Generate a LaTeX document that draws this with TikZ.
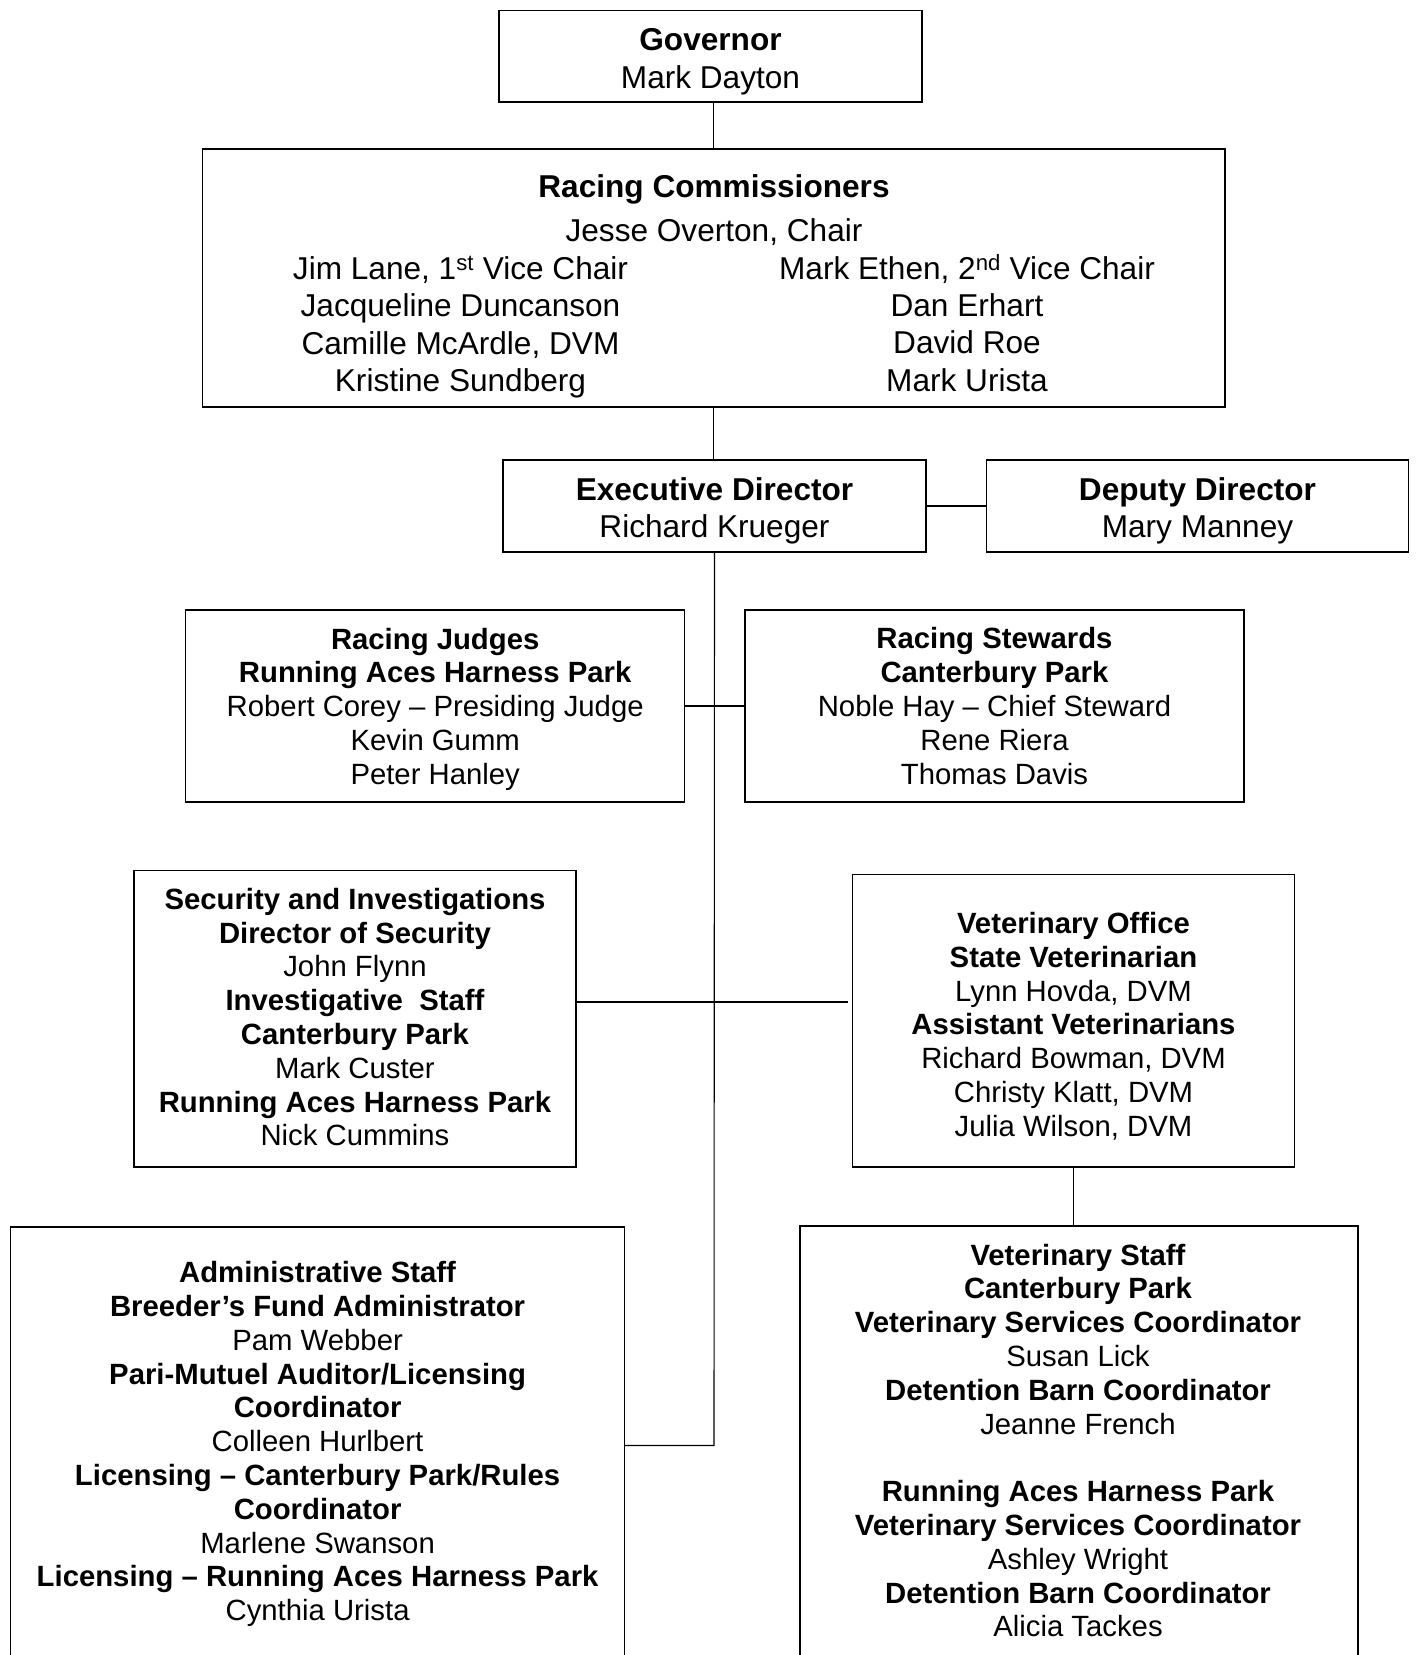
\documentclass[tikz,border=0pt]{standalone}
\usepackage{fontspec}
\setmainfont{Liberation Sans}
\newcommand\bigf{\fontsize{31.6}{37.4}\selectfont}
\newcommand\smallf{\fontsize{29.3}{33.8}\selectfont}
\begin{document}
\begin{tikzpicture}[x=1pt,y=-1pt,
  box/.style={draw,line width=1.4pt,inner sep=0pt},
  btxt/.style={inner sep=0pt,align=center,font=\bigf},
  stxt/.style={inner sep=0pt,align=center,font=\smallf},
  conn/.style={line width=1.1pt}]
\useasboundingbox (0,0) rectangle (1416,1655);
\fill[white] (0,0) rectangle (1416,1655);

% boxes
\node[box,minimum width=423pt,minimum height=91.5pt] (gov) at (710.5,56.3) {};
\node[btxt] (govtxt) at (710.5,61.6) {\textbf{Governor}\\Mark Dayton};

\node[box,minimum width=1022.4pt,minimum height=258pt] (comm) at (713.8,278) {};
\node[btxt] (commtitle) at (714,189.2) {\textbf{Racing Commissioners}};
\node[btxt] (commchair) at (714,232.1) {Jesse Overton, Chair};
\node[btxt] (commleft) at (460.5,327.1) {Jim Lane, 1\textsuperscript{st} Vice Chair\\Jacqueline Duncanson\\Camille McArdle, DVM\\Kristine Sundberg};
\node[btxt] (commright) at (967,322.9) {Mark Ethen, 2\textsuperscript{nd} Vice Chair\\Dan Erhart\\David Roe\\Mark Urista};

\node[box,minimum width=423pt,minimum height=92pt] (exec) at (714.5,506) {};
\node[btxt] (exectxt) at (714.5,510.7) {\textbf{Executive Director}\\Richard Krueger};
\node[box,minimum width=422pt,minimum height=92pt] (dep) at (1197.5,506) {};
\node[btxt] (deptxt) at (1197.5,510.7) {\textbf{Deputy Director}\\Mary Manney};

\node[box,minimum width=499pt,minimum height=192pt] (judges) at (435.2,706) {};
\node[stxt] (judgestxt) at (435.2,709.2)
  {\textbf{Racing Judges}\\\textbf{Running Aces Harness Park}\\Robert Corey – Presiding Judge\\Kevin Gumm\\Peter Hanley};
\node[box,minimum width=499pt,minimum height=192pt] (stew) at (994.5,706) {};
\node[stxt] (stewtxt) at (994.5,706)
  {\textbf{Racing Stewards}\\\textbf{Canterbury Park}\\Noble Hay – Chief Steward\\Rene Riera\\Thomas Davis};

\node[box,minimum width=442pt,minimum height=296.5pt] (sec) at (355,1018.7) {};
\node[stxt] (sectxt) at (355,1017.2)
  {\textbf{Security and Investigations}\\\textbf{Director of Security}\\John Flynn\\\textbf{Investigative\ \ Staff}\\\textbf{Canterbury Park}\\Mark Custer\\\textbf{Running Aces Harness Park}\\Nick Cummins};
\node[box,minimum width=442pt,minimum height=292.3pt] (vetoff) at (1073.5,1020.9) {};
\node[stxt] (vetofftxt) at (1073.5,1026.2)
  {\textbf{Veterinary Office}\\\textbf{State Veterinarian}\\Lynn Hovda, DVM\\\textbf{Assistant Veterinarians}\\Richard Bowman, DVM\\Christy Klatt, DVM\\Julia Wilson, DVM};

\node[box,minimum width=614pt,minimum height=437pt] (admin) at (317.5,1445.5) {};
\node[stxt] (admintxt) at (317.6,1444.2)
  {\textbf{Administrative Staff}\\\textbf{Breeder’s Fund Administrator}\\Pam Webber\\\textbf{Pari-Mutuel Auditor/Licensing}\\\textbf{Coordinator}\\Colleen Hurlbert\\\textbf{Licensing – Canterbury Park/Rules}\\\textbf{Coordinator}\\Marlene Swanson\\\textbf{Licensing – Running Aces Harness Park}\\Cynthia Urista};
\node[box,minimum width=558pt,minimum height=439pt] (vstaff) at (1079,1445.5) {};
\node[stxt] (vstafftxt) at (1078,1440.5)
  {\textbf{Veterinary Staff}\\\textbf{Canterbury Park}\\\textbf{Veterinary Services Coordinator}\\Susan Lick\\\textbf{Detention Barn Coordinator}\\Jeanne French\\~\\\textbf{Running Aces Harness Park}\\\textbf{Veterinary Services Coordinator}\\Ashley Wright\\\textbf{Detention Barn Coordinator}\\Alicia Tackes};

% connectors
\coordinate (secy) at (714,1002);
\coordinate (trunkend) at (714,1445.5);
\draw[conn] (comm.north) -- (comm.north |- gov.south);
\draw[conn] (comm.south) -- (comm.south |- exec.north);
\draw[conn] (exec.east) -- (dep.west);
\draw[conn] (exec.south) -- (trunkend) -- (admin.east);
\draw[conn] (judges.east) -- (stew.west);
\draw[conn,shorten >=4pt] (sec.east |- secy) -- (vetoff.west |- secy);
\draw[conn] (vetoff.south) -- (vetoff.south |- vstaff.north);
\end{tikzpicture}
\end{document}
